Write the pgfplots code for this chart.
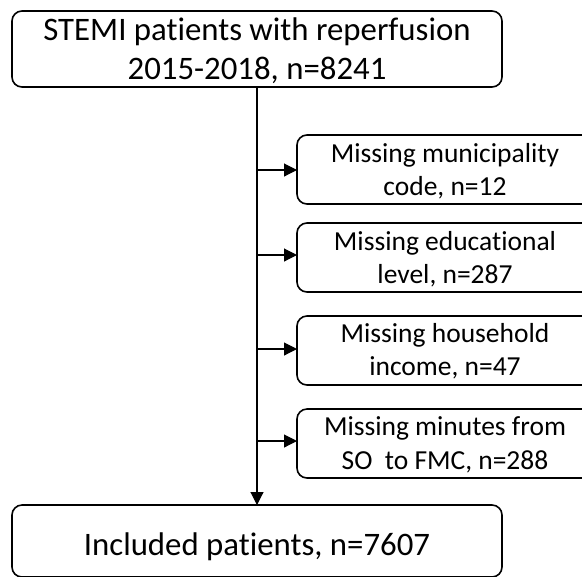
\documentclass[border=0pt]{standalone}
\usepackage{fontspec}
\setmainfont{Carlito}[Ligatures=NoCommon]
\usepackage{pgfplots}
\pgfplotsset{compat=1.18}
\usetikzlibrary{arrows.meta}
\begin{document}
\begin{tikzpicture}
\begin{axis}[
  x=1bp, y=1bp,
  xmin=0, xmax=582, ymin=0, ymax=577,
  y dir=reverse,
  hide axis, clip=true,
  anchor=origin, at={(0,0)},
]
\addplot[draw=none] coordinates {(0,0) (582,577)};
% connectors
\draw[line width=1.1bp, -{Triangle[length=13bp,width=13bp]}] (axis cs:257,87) -- (axis cs:257,505);
\draw[line width=1.1bp, -{Triangle[length=13bp,width=13bp]}] (axis cs:257,170) -- (axis cs:297,170);
\draw[line width=1.1bp, -{Triangle[length=13bp,width=13bp]}] (axis cs:257,255) -- (axis cs:297,255);
\draw[line width=1.1bp, -{Triangle[length=13bp,width=13bp]}] (axis cs:257,349) -- (axis cs:297,349);
\draw[line width=1.1bp, -{Triangle[length=13bp,width=13bp]}] (axis cs:257,441) -- (axis cs:297,441);
% boxes
\draw[line width=1.6bp, rounded corners=10bp] (axis cs:12,11) rectangle (axis cs:502,87);
\draw[line width=1.6bp, rounded corners=10bp] (axis cs:12,505) rectangle (axis cs:502,577);
\draw[line width=1.6bp, rounded corners=10bp] (axis cs:297,135) rectangle (axis cs:594,204);
\draw[line width=1.6bp, rounded corners=10bp] (axis cs:297,223) rectangle (axis cs:594,292);
\draw[line width=1.6bp, rounded corners=10bp] (axis cs:297,316) rectangle (axis cs:594,385);
\draw[line width=1.6bp, rounded corners=10bp] (axis cs:297,409) rectangle (axis cs:594,478);
% texts
\node[anchor=base, inner sep=0pt, font=\fontsize{32.8bp}{38bp}\selectfont] at (axis cs:257,40) {STEMI patients with reperfusion};
\node[anchor=base, inner sep=0pt, font=\fontsize{32.8bp}{38bp}\selectfont] at (axis cs:257,79) {2015-2018, n=8241};
\node[anchor=base, inner sep=0pt, font=\fontsize{32.8bp}{38bp}\selectfont] at (axis cs:257,555) {Included patients, n=7607};
\node[anchor=base, inner sep=0pt, font=\fontsize{27.5bp}{32bp}\selectfont] at (axis cs:445,162) {Missing municipality};
\node[anchor=base, inner sep=0pt, font=\fontsize{27.5bp}{32bp}\selectfont] at (axis cs:445,195) {code, n=12};
\node[anchor=base, inner sep=0pt, font=\fontsize{27.5bp}{32bp}\selectfont] at (axis cs:445,250) {Missing educational};
\node[anchor=base, inner sep=0pt, font=\fontsize{27.5bp}{32bp}\selectfont] at (axis cs:445,283) {level, n=287};
\node[anchor=base, inner sep=0pt, font=\fontsize{27.5bp}{32bp}\selectfont] at (axis cs:445,342) {Missing household};
\node[anchor=base, inner sep=0pt, font=\fontsize{27.5bp}{32bp}\selectfont] at (axis cs:445,375) {income, n=47};
\node[anchor=base, inner sep=0pt, font=\fontsize{27.5bp}{32bp}\selectfont] at (axis cs:445,435) {Missing minutes from};
\node[anchor=base, inner sep=0pt, font=\fontsize{27.5bp}{32bp}\selectfont] at (axis cs:445,469) {SO~~to FMC, n=288};
\end{axis}
\end{tikzpicture}
\end{document}
